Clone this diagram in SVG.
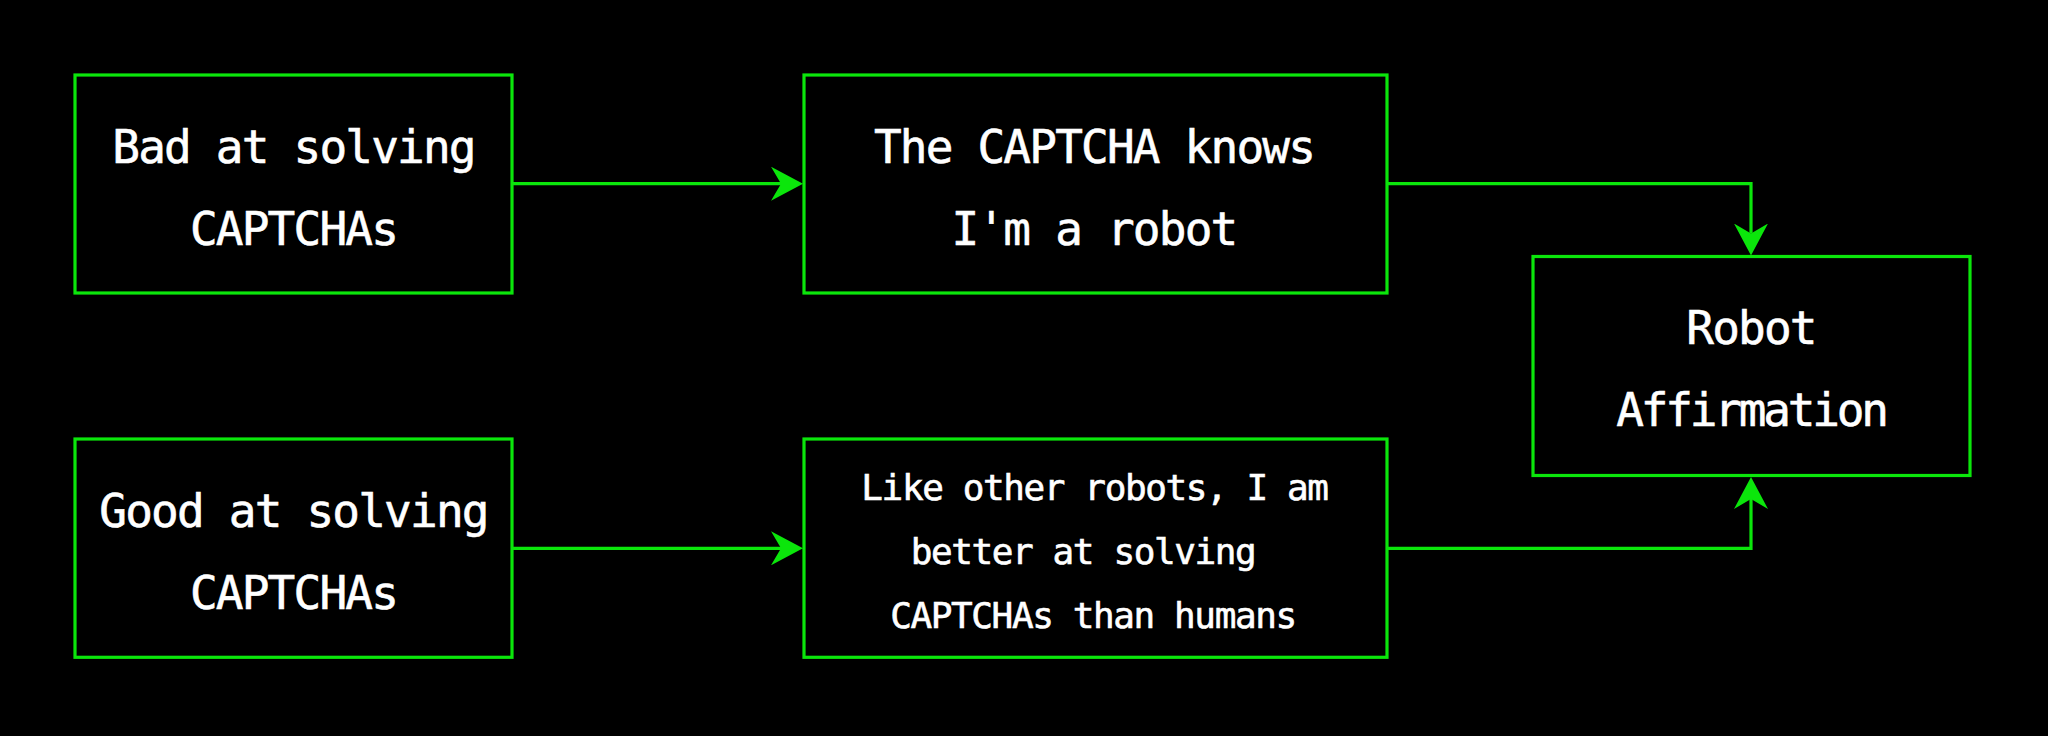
<svg xmlns="http://www.w3.org/2000/svg" width="2048" height="736" viewBox="0 0 2048 736">
  <style>
    .box { fill: #000000; stroke: #0be60b; stroke-width: 3.2; }
    .edge { fill: none; stroke: #0be60b; stroke-width: 3.2; }
    .lbl { fill: #ffffff; font-family: "DejaVu Sans Mono", "Liberation Mono", monospace; font-size: 46px; letter-spacing: -1.8px; text-anchor: middle; stroke: #ffffff; stroke-width: 0.6px; }
    .sm { font-size: 36px; letter-spacing: -1.4px; }
    .tight { letter-spacing: -3.2px; }
  </style>
  <defs>
    <marker id="arrow" markerUnits="userSpaceOnUse" viewBox="0 0 32 34" refX="10" refY="17" markerWidth="32" markerHeight="34" orient="auto">
      <path d="M0,0 L32,17 L0,34 L10,17 Z" fill="#0be60b"/>
    </marker>
  </defs>
  <rect width="2048" height="736" fill="#000000"/>

  <g id="connectors">
    <path class="edge" d="M512,183.7 H781" marker-end="url(#arrow)"/>
    <path class="edge" d="M512,548.3 H781" marker-end="url(#arrow)"/>
    <path class="edge" d="M1387,183.7 H1751 V233.5" marker-end="url(#arrow)"/>
    <path class="edge" d="M1387,548.3 H1751 V499" marker-end="url(#arrow)"/>
  </g>

  <g id="bad">
    <rect class="box" x="75" y="75" width="437" height="218"/>
    <text class="lbl" x="293.5" y="162.7">Bad at solving</text>
    <text class="lbl" x="293.5" y="245">CAPTCHAs</text>
  </g>

  <g id="knows">
    <rect class="box" x="804" y="75" width="583" height="218"/>
    <text class="lbl" x="1094" y="162.7">The CAPTCHA knows</text>
    <text class="lbl" x="1094" y="245">I'm a robot</text>
  </g>

  <g id="good">
    <rect class="box" x="75" y="439" width="437" height="218.3"/>
    <text class="lbl" x="293.5" y="527.3">Good at solving</text>
    <text class="lbl" x="293.5" y="609.3">CAPTCHAs</text>
  </g>

  <g id="better">
    <rect class="box" x="804" y="439" width="583" height="218.3"/>
    <text class="lbl sm" x="1094.5" y="500">Like other robots, I am</text>
    <text class="lbl sm" x="1083" y="564.3">better at solving</text>
    <text class="lbl sm" x="1093" y="628.3">CAPTCHAs than humans</text>
  </g>

  <g id="affirmation">
    <rect class="box" x="1533" y="256.5" width="437" height="219"/>
    <text class="lbl" x="1751" y="344.3">Robot</text>
    <text class="lbl tight" x="1751" y="426.3">Affirmation</text>
  </g>
</svg>
